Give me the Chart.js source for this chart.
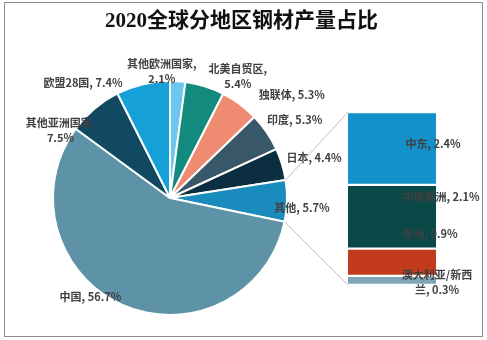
<!DOCTYPE html>
<html>
<head>
<meta charset="utf-8">
<script src="https://cdn.jsdelivr.net/npm/chart.js@4/dist/chart.umd.min.js"></script>
<style>
body { margin: 0; background: #fff; }
#wrap { position: relative; width: 487px; height: 340px; }
#frame { position: absolute; left: 4px; top: 2px; width: 477px; height: 333px; border: 1px solid #8c8c8c; }
canvas { position: absolute; left: 0; top: 0; }
</style>
</head>
<body>
<div id="wrap">
  <div id="frame"></div>
  <canvas id="pieChart" width="487" height="340"></canvas>
  <canvas id="barChart" width="487" height="340"></canvas>
</div>
<script>
var chartTitle = '2020全球分地区钢材产量占比';

// main pie
var regions = ['其他欧洲国家', '北美自贸区', '独联体', '印度', '日本', '其他', '中国', '其他亚洲国家', '欧盟28国'];
var shares = [2.1, 5.4, 5.3, 5.3, 4.4, 5.7, 56.7, 7.5, 7.4];
var regionColors = ['#6cc6ee', '#138a7e', '#ee8b71', '#38586a', '#0b2e40', '#1a8bbd', '#5d92a7', '#114862', '#15a0d8'];

// "其他" broken down in the stacked bar
var otherRegions = ['中东', '中南美洲', '非洲', '澳大利亚/新西兰'];
var otherShares = [2.4, 2.1, 0.9, 0.3];
var otherColors = ['#1591c9', '#0b4848', '#c23b1c', '#80a5b6'];

var otherIndex = regions.indexOf('其他');

// label placement: offset from slice rim / bar segment centre, and where the text wraps
var pieLabelOffsets = [[-16, -10], [33, -10], [52, -9], [28, -12], [32, -6], [15, 7], [-32, -8], [-34, 22], [-60, -1]];
var pieLabelBreaks = [7, 6, null, null, null, null, null, 7, null];
var barLabelOffsets = [[41, -5], [49, -20], [38, -28], [45, 2]];
var barLabelBreaks = [null, null, null, 7];

var labelFont = 'bold 11px "Noto Sans CJK SC"';
var labelColor = '#404040';

function labelLines(name, value, brk) {
  var txt = name + ', ' + value.toFixed(1) + '%';
  if (brk == null) return [txt];
  return [txt.slice(0, brk).trim(), txt.slice(brk).trim()];
}

function drawLines(ctx, lines, cx, cy) {
  var lh = 15;
  ctx.save();
  ctx.font = labelFont;
  ctx.fillStyle = labelColor;
  ctx.textAlign = 'center';
  ctx.textBaseline = 'middle';
  lines.forEach(function (l, i) {
    ctx.fillText(l, cx, cy + (i - (lines.length - 1) / 2) * lh);
  });
  ctx.restore();
}

var titlePlugin = {
  id: 'pageTitle',
  afterDraw: function (chart) {
    var ctx = chart.ctx;
    ctx.save();
    ctx.font = 'bold 21px "Liberation Serif", "Noto Sans CJK SC"';
    ctx.fillStyle = '#111';
    ctx.textAlign = 'center';
    ctx.textBaseline = 'middle';
    ctx.fillText(chartTitle, chart.width / 2 - 2, 22);
    ctx.restore();
  }
};

var pieLabels = {
  id: 'pieLabels',
  afterDatasetsDraw: function (chart) {
    var meta = chart.getDatasetMeta(0);
    meta.data.forEach(function (arc, i) {
      var p = arc.getProps(['x', 'y', 'startAngle', 'endAngle', 'outerRadius'], true);
      var mid = (p.startAngle + p.endAngle) / 2;
      var ax = p.x + Math.cos(mid) * p.outerRadius;
      var ay = p.y + Math.sin(mid) * p.outerRadius;
      drawLines(chart.ctx, labelLines(regions[i], shares[i], pieLabelBreaks[i]),
        ax + pieLabelOffsets[i][0], ay + pieLabelOffsets[i][1]);
    });
  }
};

var pieChart = new Chart(document.getElementById('pieChart'), {
  type: 'pie',
  data: {
    labels: regions,
    datasets: [{
      data: shares,
      backgroundColor: regionColors,
      borderColor: '#fff',
      borderWidth: 2
    }]
  },
  options: {
    responsive: false,
    animation: false,
    layout: { padding: { left: 52, right: 199, top: 80, bottom: 24 } },
    plugins: { legend: { display: false }, tooltip: { enabled: false } }
  },
  plugins: [titlePlugin, pieLabels]
});

var otherTotal = otherShares.reduce(function (a, b) { return a + b; }, 0);

// bottom of the stack first
var barSets = otherRegions.map(function (name, i) {
  return {
    label: name,
    data: [otherShares[i]],
    backgroundColor: otherColors[i],
    borderColor: '#fff',
    borderWidth: { top: 1.5, bottom: 1.5, left: 0, right: 0 },
    borderSkipped: false,
    categoryPercentage: 1,
    barPercentage: 1
  };
}).reverse();

var connectors = {
  id: 'connectors',
  beforeDatasetsDraw: function (chart) {
    var arc = pieChart.getDatasetMeta(0).data[otherIndex];
    var p = arc.getProps(['x', 'y', 'startAngle', 'endAngle', 'outerRadius'], true);
    var topBar = chart.getDatasetMeta(barSets.length - 1).data[0];
    var botBar = chart.getDatasetMeta(0).data[0];
    var left = topBar.x - topBar.width / 2;
    var ctx = chart.ctx;
    ctx.save();
    ctx.strokeStyle = '#bfbfbf';
    ctx.lineWidth = 1;
    ctx.beginPath();
    ctx.moveTo(p.x + Math.cos(p.startAngle) * p.outerRadius, p.y + Math.sin(p.startAngle) * p.outerRadius);
    ctx.lineTo(left, topBar.y);
    ctx.moveTo(p.x + Math.cos(p.endAngle) * p.outerRadius, p.y + Math.sin(p.endAngle) * p.outerRadius);
    ctx.lineTo(left, botBar.base);
    ctx.stroke();
    ctx.restore();
  },
  afterDatasetsDraw: function (chart) {
    otherRegions.forEach(function (name, i) {
      var bar = chart.getDatasetMeta(barSets.length - 1 - i).data[0];
      var cy = (bar.y + bar.base) / 2;
      drawLines(chart.ctx, labelLines(name, otherShares[i], barLabelBreaks[i]),
        bar.x + barLabelOffsets[i][0], cy + barLabelOffsets[i][1]);
    });
  }
};

var barChart = new Chart(document.getElementById('barChart'), {
  type: 'bar',
  data: { labels: ['其他'], datasets: barSets },
  options: {
    responsive: false,
    animation: false,
    layout: { padding: { left: 348, right: 51, top: 112, bottom: 55 } },
    scales: {
      x: { stacked: true, display: false },
      y: { stacked: true, display: false, min: 0, max: otherTotal }
    },
    plugins: { legend: { display: false }, tooltip: { enabled: false } }
  },
  plugins: [connectors]
});
</script>
</body>
</html>
